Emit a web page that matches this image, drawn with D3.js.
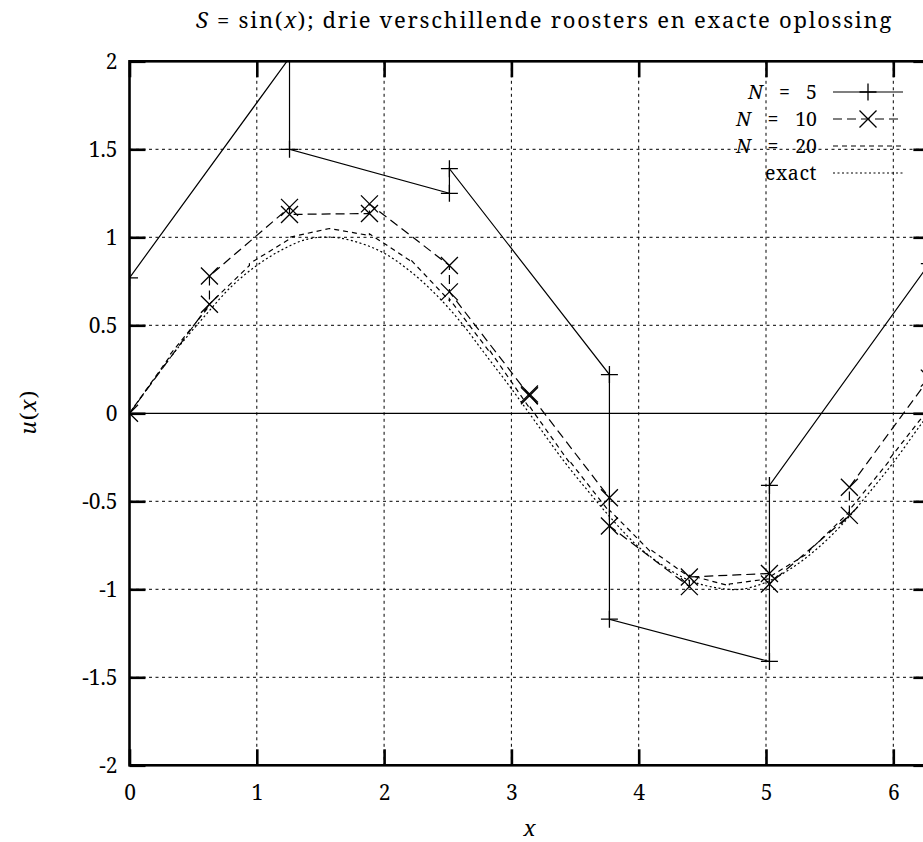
<!DOCTYPE html>
<html>
<head>
<meta charset="utf-8">
<script src="https://cdn.jsdelivr.net/npm/d3@7/dist/d3.min.js"></script>
<style>
body { margin: 0; background: #fff; }
</style>
</head>
<body>
<svg id="chart" width="923" height="842"></svg>
<script>
// cell edges and the value at the left / right end of every cell
var nodes5 = [0, 1.257, 2.513, 3.770, 5.027, 6.283];
var left5 = [0.77, 1.50, 1.39, -1.17, -0.41];
var right5 = [2.02, 1.25, 0.22, -1.41, 0.85];

var nodes10 = [0, 0.628, 1.257, 1.885, 2.513, 3.142, 3.770, 4.398, 5.027, 5.655, 6.283];
var left10 = [0.00, 0.78, 1.13, 1.19, 0.69, 0.11, -0.64, -0.93, -0.97, -0.42];
var right10 = [0.62, 1.17, 1.135, 0.84, 0.10, -0.48, -0.985, -0.91, -0.58, 0.20];

var nodes20 = [0, 0.314, 0.628, 0.942, 1.257, 1.571, 1.885, 2.199, 2.513, 2.827, 3.142,
               3.456, 3.770, 4.084, 4.398, 4.712, 5.027, 5.341, 5.655, 5.969, 6.283];
var left20 = [0.00, 0.33, 0.62, 0.85, 1.00, 1.05, 1.02, 0.88, 0.65, 0.36,
              0.04, -0.27, -0.55, -0.77, -0.92, -0.97, -0.93, -0.78, -0.55, -0.26];
var right20 = [0.32, 0.61, 0.84, 0.99, 1.05, 1.01, 0.87, 0.64, 0.35, 0.03,
               -0.28, -0.56, -0.78, -0.93, -0.98, -0.94, -0.79, -0.56, -0.27, 0.03];

var exactX = [0, 0.2, 0.4, 0.6, 0.8, 1.0, 1.2, 1.4, 1.6, 1.8, 2.0, 2.2, 2.4, 2.6, 2.8, 3.0,
              3.2, 3.4, 3.6, 3.8, 4.0, 4.2, 4.4, 4.6, 4.8, 5.0, 5.2, 5.4, 5.6, 5.8, 6.0, 6.2, 6.283];
var exactU = [0, 0.20, 0.39, 0.56, 0.72, 0.84, 0.93, 0.99, 1.00, 0.97, 0.91, 0.81, 0.68, 0.52, 0.33, 0.14,
              -0.06, -0.26, -0.44, -0.61, -0.76, -0.87, -0.95, -0.99, -1.00, -0.96, -0.88, -0.77, -0.63, -0.46, -0.28, -0.08, 0.00];

var xTicks = [0, 1, 2, 3, 4, 5, 6];
var yTicks = [-2, -1.5, -1, -0.5, 0, 0.5, 1, 1.5, 2];
var yGrid = [-1.5, -1, -0.5, 0.5, 1, 1.5];

var svg = d3.select("#chart");
var x0 = 129.5, unit = 127.3;
var xScale = d3.scaleLinear().domain([0, 2 * Math.PI]).range([x0, x0 + 2 * Math.PI * unit]);
var yScale = d3.scaleLinear().domain([-2, 2]).range([765.3, 61.3]);
var L = xScale.range()[0], R = xScale.range()[1], T = yScale.range()[1], B = yScale.range()[0];
var serif = '"Noto Serif", "Liberation Serif", serif';

function cellPoints(nodes, lv, rv) {
    var pts = [];
    lv.forEach(function(v, i) {
        pts.push([nodes[i], v]);
        pts.push([nodes[i + 1], rv[i]]);
    });
    return pts;
}

// stretch a text so it gets the wanted width (TeX fonts are wider)
function fitWidth(t, w) {
    var node = t.node();
    var n = node.getNumberOfChars();
    var len = node.getComputedTextLength();
    t.attr("letter-spacing", ((w - len) / n).toFixed(2));
}
function fitWords(t, w) {
    var node = t.node();
    var spaces = node.textContent.split(" ").length - 1;
    var len = node.getComputedTextLength();
    if (spaces > 0) t.style("word-spacing", ((w - len) / spaces).toFixed(2) + "px");
    else fitWidth(t, w);
}

svg.append("defs").append("clipPath").attr("id", "plotclip")
    .append("rect").attr("x", L).attr("y", T).attr("width", R - L).attr("height", B - T);

// grid
var grid = svg.append("g").attr("stroke", "#000").attr("stroke-width", 1).attr("stroke-dasharray", "3,3.5");
grid.selectAll("line.gx").data(xTicks.slice(1)).enter().append("line")
    .attr("x1", d => xScale(d)).attr("x2", d => xScale(d)).attr("y1", T).attr("y2", B);
grid.selectAll("line.gy").data(yGrid).enter().append("line")
    .attr("y1", d => yScale(d)).attr("y2", d => yScale(d)).attr("x1", L).attr("x2", R);

// zero axis
svg.append("line").attr("x1", L).attr("x2", R).attr("y1", yScale(0)).attr("y2", yScale(0))
    .attr("stroke", "#000").attr("stroke-width", 1.3);

// axes with inward ticks
function styleAxis(g) {
    g.attr("font-family", serif);
    g.select(".domain").remove();
    g.selectAll(".tick line").attr("stroke", "#000").attr("stroke-width", 2.6);
    g.selectAll(".tick text").style("font-size", "21px").style("font-family", serif).attr("fill", "#000");
}
svg.append("g").attr("transform", "translate(0," + B + ")")
    .call(d3.axisBottom(xScale).tickValues(xTicks).tickSizeInner(-16).tickSizeOuter(0).tickPadding(20)
        .tickFormat(d3.format("d")))
    .call(styleAxis);
svg.append("g").attr("transform", "translate(0," + T + ")")
    .call(d3.axisTop(xScale).tickValues(xTicks).tickSizeInner(-16).tickSizeOuter(0).tickFormat(""))
    .call(styleAxis);
svg.append("g").attr("transform", "translate(" + L + ",0)")
    .call(d3.axisLeft(yScale).tickValues(yTicks).tickSizeInner(-16).tickSizeOuter(0).tickPadding(12)
        .tickFormat(d => String(d)))
    .call(styleAxis);
svg.append("g").attr("transform", "translate(" + R + ",0)")
    .call(d3.axisRight(yScale).tickValues(yTicks).tickSizeInner(-16).tickSizeOuter(0).tickFormat(""))
    .call(styleAxis);

svg.append("rect").attr("x", L).attr("y", T).attr("width", R - L).attr("height", B - T)
    .attr("fill", "none").attr("stroke", "#000").attr("stroke-width", 2.6);

// series
var line = d3.line().x(d => xScale(d[0])).y(d => yScale(d[1]));
var plot = svg.append("g").attr("clip-path", "url(#plotclip)");

var pts5 = cellPoints(nodes5, left5, right5);
var pts10 = cellPoints(nodes10, left10, right10);
var pts20 = cellPoints(nodes20, left20, right20);
var ptsExact = exactX.map((d, i) => [d, exactU[i]]);

plot.append("path").datum(ptsExact).attr("d", line.curve(d3.curveCatmullRom))
    .attr("fill", "none").attr("stroke", "#000").attr("stroke-width", 1.2).attr("stroke-dasharray", "2,2.5");
line.curve(d3.curveLinear);
plot.append("path").datum(pts20).attr("d", line)
    .attr("fill", "none").attr("stroke", "#000").attr("stroke-width", 1.2).attr("stroke-dasharray", "5,4");
plot.append("path").datum(pts10).attr("d", line)
    .attr("fill", "none").attr("stroke", "#000").attr("stroke-width", 1.2).attr("stroke-dasharray", "9,5");
plot.append("path").datum(pts5).attr("d", line)
    .attr("fill", "none").attr("stroke", "#000").attr("stroke-width", 1.2);

function plusPath(px, py, s) {
    return "M" + (px - s) + "," + py + "H" + (px + s) + "M" + px + "," + (py - s) + "V" + (py + s);
}
function crossPath(px, py, s) {
    return "M" + (px - s) + "," + (py - s) + "L" + (px + s) + "," + (py + s) +
        "M" + (px - s) + "," + (py + s) + "L" + (px + s) + "," + (py - s);
}
plot.selectAll("path.p5").data(pts5.filter(d => d[1] <= 2)).enter().append("path")
    .attr("d", d => plusPath(xScale(d[0]), yScale(d[1]), 8.5))
    .attr("stroke", "#000").attr("stroke-width", 1.3).attr("fill", "none");
plot.selectAll("path.p10").data(pts10).enter().append("path")
    .attr("d", d => crossPath(xScale(d[0]), yScale(d[1]), 8.5))
    .attr("stroke", "#000").attr("stroke-width", 1.3).attr("fill", "none");

// legend
var legend = [
    { name: ["N", " = 5"], dash: null, mark: "plus", w: 69 },
    { name: ["N", " = 10"], dash: "9,5", mark: "cross", w: 81 },
    { name: ["N", " = 20"], dash: "5,4", mark: null, w: 81 },
    { name: [null, "exact"], dash: "2,2.5", mark: null, w: 52 }
];
var lg = svg.append("g");
legend.forEach(function(d, i) {
    var yy = 92 + i * 27;
    var t = lg.append("text").attr("x", 817).attr("y", yy).attr("dy", "0.35em")
        .attr("text-anchor", "end").style("font-family", serif).style("font-size", "19.5px");
    if (d.name[0]) t.append("tspan").style("font-style", "italic").text(d.name[0]);
    t.append("tspan").text(d.name[1]);
    fitWords(t, d.w);
    lg.append("line").attr("x1", 833).attr("x2", 903).attr("y1", yy).attr("y2", yy)
        .attr("stroke", "#000").attr("stroke-width", 1.2).attr("stroke-dasharray", d.dash);
    if (d.mark === "plus") lg.append("path").attr("d", plusPath(868, yy, 8.5)).attr("stroke", "#000").attr("stroke-width", 1.3);
    if (d.mark === "cross") lg.append("path").attr("d", crossPath(868, yy, 8.5)).attr("stroke", "#000").attr("stroke-width", 1.3);
});

// title and axis labels
var title = svg.append("text").attr("x", 544.5).attr("y", 28).attr("text-anchor", "middle")
    .style("font-family", serif).style("font-size", "22px");
title.append("tspan").style("font-style", "italic").text("S");
title.append("tspan").text(" = sin(");
title.append("tspan").style("font-style", "italic").text("x");
title.append("tspan").text("); drie verschillende roosters en exacte oplossing");
fitWidth(title, 697);

svg.append("text").attr("x", xScale(Math.PI)).attr("y", 836).attr("text-anchor", "middle")
    .style("font-family", serif).style("font-size", "22px").style("font-style", "italic").text("x");

var yl = svg.append("text").attr("transform", "translate(36,412) rotate(-90)").attr("text-anchor", "middle")
    .style("font-family", serif).style("font-size", "22px");
yl.append("tspan").style("font-style", "italic").text("u");
yl.append("tspan").text("(");
yl.append("tspan").style("font-style", "italic").text("x");
yl.append("tspan").text(")");
fitWidth(yl, 45);
</script>
</body>
</html>
